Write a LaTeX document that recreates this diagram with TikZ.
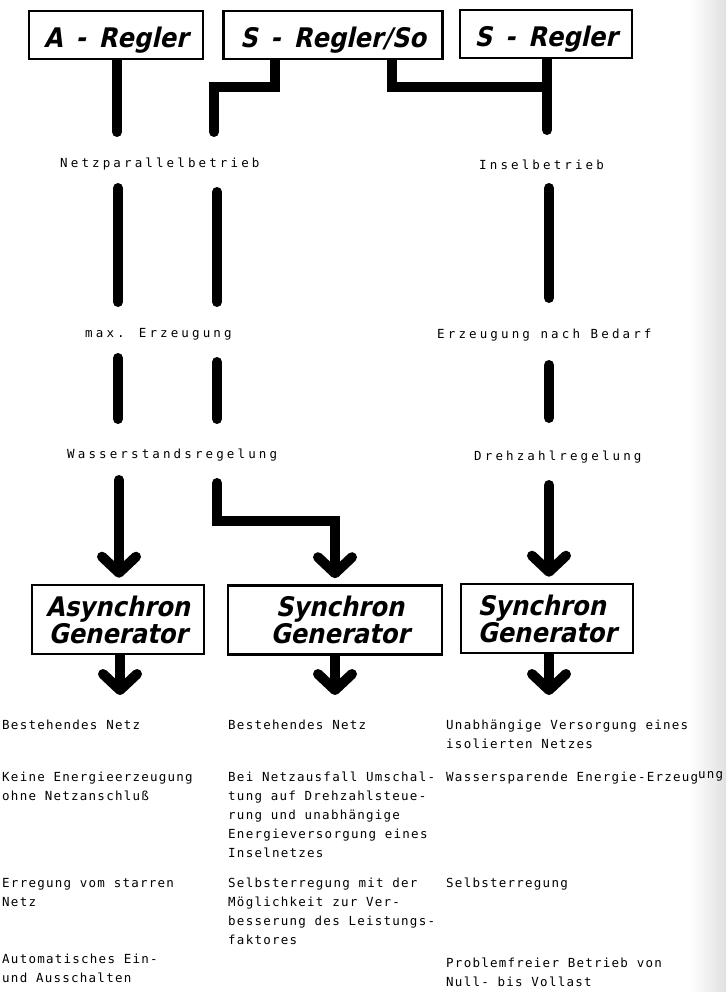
\documentclass[tikz,border=0pt]{standalone}
\usepackage{fontspec}
\usetikzlibrary{arrows.meta,backgrounds}
\newfontfamily\boxfont{DejaVu Sans Condensed}[UprightFont=*, BoldFont=* Bold, BoldFeatures={FakeSlant=0.22}]
\newfontfamily\labfont{DejaVu Sans Mono}[LetterSpace=25]
\newfontfamily\descfont{DejaVu Sans Mono}[LetterSpace=10]
\newcommand\rgdash{\hspace{13pt}-\hspace{13pt}}
\tikzset{
  topbox/.style={draw, line width=2.6pt, fill=white, inner xsep=0pt, inner ysep=0pt,
    anchor=base, text height=26pt, text depth=0pt, minimum height=48pt,
    font=\boxfont\bfseries\fontsize{27}{28}\selectfont},
  genbox/.style={draw, line width=2.6pt, fill=white, inner sep=0pt, minimum height=69pt,
    align=center, font=\boxfont\bfseries\fontsize{27}{27}\selectfont},
  lab/.style={anchor=base west, inner sep=0pt, font=\labfont\fontsize{12.5}{14}\selectfont},
  desc/.style={anchor=base west, inner sep=0pt, font=\descfont\fontsize{12.5}{19}\selectfont},
  conn/.style={line width=10pt, line cap=round, line join=miter},
  arr/.style={conn, -{Straight Barb[length=16pt, width=34pt, round]}},
}
\begin{document}
\begin{tikzpicture}[x=1pt, y=-1pt]
\useasboundingbox (0,0) rectangle (726,992);

% top boxes
\node[topbox, minimum width=174pt] (areg)  at (116,48)   {A\rgdash Regler};
\node[topbox, minimum width=219pt] (soreg) at (333,48)   {S\rgdash Regler/So};
\node[topbox, minimum width=172pt] (sreg)  at (546,47)   {S\rgdash Regler};

% generator boxes
\node[genbox, minimum width=172pt] (asyn) at (118,619.5) {Asynchron\\Generator};
\node[genbox, minimum width=214pt] (syn1) at (335,620)   {\hspace*{10pt}Synchron\\\hspace*{10pt}Generator};
\node[genbox, minimum width=172pt, align=left] (syn2) at (547,618.5) {Synchron\\Generator};

% intermediate labels
\node[lab] (npb)  at (60,168)  {Netzparallelbetrieb};
\node[lab] (isb)  at (479,170) {Inselbetrieb};
\node[lab] (maxe) at (85,337)  {max. Erzeugung};
\node[lab] (enb)  at (437,338) {Erzeugung nach Bedarf};
\node[lab] (wsr)  at (67,458)  {Wasserstandsregelung};
\node[lab] (dzr)  at (474,460) {Drehzahlregelung};

% coordinates
\coordinate (a1) at (117,132);
\coordinate (b1) at (214,132);
\coordinate (c1) at (547,130);
\coordinate (xb) at (275,87);
\coordinate (xc) at (392,87);

\coordinate (u1a) at (118,188); \coordinate (u1b) at (118,302);
\coordinate (u2a) at (217,192); \coordinate (u2b) at (217,302);
\coordinate (u3a) at (549,188); \coordinate (u3b) at (549,298);
\coordinate (v1a) at (118,358); \coordinate (v1b) at (118,419);
\coordinate (v2a) at (217,362); \coordinate (v2b) at (217,419);
\coordinate (v3a) at (549,365); \coordinate (v3b) at (549,418);

\coordinate (s1) at (119,480);
\coordinate (s2) at (217,483);
\coordinate (s2k) at (217,521);
\coordinate (s3) at (549,485);

\coordinate (t1) at (120,695);
\coordinate (t2) at (335,695);
\coordinate (t3) at (549,695);

\begin{pgfonlayer}{background}
  \fill[white] (0,0) rectangle (726,992);
  \shade[left color=white, right color=black!12] (690,0) rectangle (726,992);
  \draw[conn] (areg.south -| a1) -- (a1);
  \draw[conn] (soreg.south -| xb) -- (xb) -| (b1);
  \draw[conn] (soreg.south -| xc) -- (xc) -- (xc -| c1);
  \draw[conn] (sreg.south -| c1) -- (c1);
  \draw[arr] (asyn.south -| t1) -- (t1);
  \draw[arr] (syn1.south -| t2) -- (t2);
  \draw[arr] (syn2.south -| t3) -- (t3);
\end{pgfonlayer}

\draw[conn] (u1a) -- (u1b);
\draw[conn] (u2a) -- (u2b);
\draw[conn] (u3a) -- (u3b);
\draw[conn] (v1a) -- (v1b);
\draw[conn] (v2a) -- (v2b);
\draw[conn] (v3a) -- (v3b);

\draw[arr, shorten >=6pt] (s1) -- (s1 |- asyn.north);
\draw[arr, shorten >=6pt] (s2) -- (s2k) -| (syn1.north);
\draw[arr, shorten >=6pt] (s3) -- (s3 |- syn2.north);

% descriptions
\node[desc] (d11) at (2,729)   {Bestehendes Netz};
\node[desc] (d12) at (228,729) {Bestehendes Netz};
\node[desc] (d13) at (446,729) {\begin{tabular}[t]{@{}l@{}}Unabhängige Versorgung eines\\isolierten Netzes\end{tabular}};

\node[desc] (d21) at (2,781)   {\begin{tabular}[t]{@{}l@{}}Keine Energieerzeugung\\ohne Netzanschluß\end{tabular}};
\node[desc] (d22) at (228,781) {\begin{tabular}[t]{@{}l@{}}Bei Netzausfall Umschal-\\tung auf Drehzahlsteue-\\rung und unabhängige\\Energieversorgung eines\\Inselnetzes\end{tabular}};
\node[desc] (d23) at (446,781) {Wassersparende Energie-Erzeug\raisebox{2.5pt}{ung}};

\node[desc] (d31) at (2,887)   {\begin{tabular}[t]{@{}l@{}}Erregung vom starren\\Netz\end{tabular}};
\node[desc] (d32) at (228,887) {\begin{tabular}[t]{@{}l@{}}Selbsterregung mit der\\Möglichkeit zur Ver-\\besserung des Leistungs-\\faktores\end{tabular}};
\node[desc] (d33) at (446,887) {Selbsterregung};

\node[desc] (d41) at (2,963)   {\begin{tabular}[t]{@{}l@{}}Automatisches Ein-\\und Ausschalten\end{tabular}};
\node[desc] (d43) at (446,967) {\begin{tabular}[t]{@{}l@{}}Problemfreier Betrieb von\\Null- bis Vollast\end{tabular}};
\end{tikzpicture}
\end{document}
